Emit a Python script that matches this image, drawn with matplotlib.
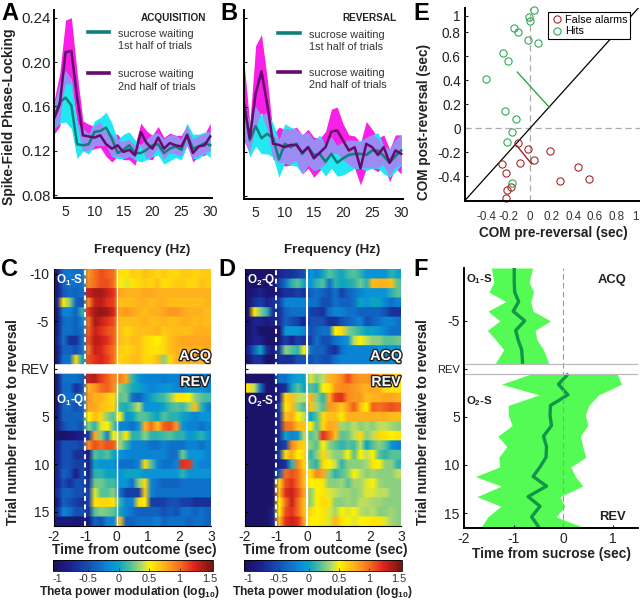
import numpy as np
import matplotlib
matplotlib.use('Agg')
import matplotlib.pyplot as plt
import matplotlib.patheffects as pe
from matplotlib.colors import LinearSegmentedColormap

plt.rcParams['font.family'] = ['Liberation Sans', 'DejaVu Sans']
plt.rcParams['mathtext.fontset'] = 'custom'
plt.rcParams['mathtext.rm'] = 'Liberation Sans'
plt.rcParams['mathtext.bf'] = 'Liberation Sans:bold'
plt.rcParams['axes.unicode_minus'] = False

# Panels A and B
freq = list(range(3, 31))

a_teal = [.150,.164,.168,.161,.126,.125,.126,.137,.138,.141,.131,.118,.121,.125,.118,.118,.121,.125,.126,.118,.122,.124,.121,.135,.122,.124,.127,.125]
a_teal_hi = [.16,.18,.192,.185,.145,.14,.135,.147,.15,.155,.145,.13,.135,.137,.13,.125,.13,.135,.136,.13,.134,.134,.13,.145,.135,.135,.137,.137]
a_teal_lo = [.14,.145,.146,.14,.113,.12,.117,.125,.125,.125,.115,.113,.113,.115,.112,.11,.112,.115,.116,.108,.111,.114,.112,.125,.113,.113,.118,.114]
a_purple = [.149,.162,.209,.210,.168,.134,.133,.132,.134,.126,.122,.125,.119,.121,.116,.137,.127,.122,.132,.122,.127,.125,.124,.134,.118,.124,.125,.133]
a_purple_hi = [.165,.19,.238,.24,.19,.147,.144,.142,.146,.137,.135,.135,.128,.13,.125,.145,.138,.134,.142,.132,.136,.134,.134,.143,.13,.133,.135,.145]
a_purple_lo = [.135,.142,.18,.18,.145,.12,.12,.122,.123,.115,.11,.115,.112,.112,.107,.125,.113,.112,.122,.112,.118,.117,.115,.125,.11,.115,.116,.12]

b_teal = [.163,.130,.143,.132,.136,.132,.113,.127,.124,.127,.118,.124,.117,.118,.111,.118,.110,.114,.117,.118,.118,.117,.121,.121,.116,.110,.116,.121]
b_teal_hi = [.16,.145,.16,.152,.155,.145,.13,.145,.142,.14,.135,.137,.13,.135,.125,.133,.125,.128,.13,.13,.13,.132,.135,.137,.125,.122,.13,.135]
b_teal_lo = [.135,.115,.125,.118,.118,.115,.097,.11,.108,.107,.10,.108,.103,.105,.098,.105,.098,.099,.102,.105,.105,.103,.105,.105,.10,.097,.102,.108]
b_purple = [.163,.132,.172,.192,.162,.127,.126,.124,.126,.126,.119,.124,.114,.119,.124,.138,.139,.130,.121,.124,.105,.127,.124,.117,.124,.110,.121,.118]
b_purple_hi = [.20,.145,.215,.225,.185,.135,.142,.14,.14,.142,.135,.14,.133,.132,.138,.158,.16,.145,.135,.134,.128,.147,.14,.132,.135,.122,.135,.135]
b_purple_lo = [.13,.118,.14,.155,.14,.113,.11,.107,.108,.112,.10,.105,.097,.103,.108,.118,.118,.113,.108,.105,.09,.105,.105,.102,.108,.093,.105,.10]

# Panel E
hits_x = [.04,-.01,0,-.15,-.11,-.02,.07,-.25,-.2,-.41,-.23,-.13,-.17,-.21,-.17]
hits_y = [.98,.925,.89,.83,.80,.73,.71,.625,.56,.41,.14,.075,-.03,-.117,-.455]
false_x = [-.11,-.015,.18,.035,-.09,-.26,-.225,.44,.54,.28,-.18,-.215,-.22]
false_y = [-.125,-.175,-.19,-.265,-.285,-.30,-.37,-.325,-.42,-.44,-.485,-.51,-.58]
hits_seg_x = [-.117, .18]
hits_seg_y = [.467, .172]
false_seg_x = [-.123, .015]
false_seg_y = [-.144, -.297]

# Panels C and D, trials x time bins
c_acq = [
    [-.9,-.3,-.25,-.3,-.3,.85,1.0,1.1,1.05,1.0,.55,.55,.65,.6,.7,.65,.6,.65,.6,.6,.65,.65,.6,.65,.65],
    [-.9,-.4,-.3,-.35,-.3,.9,1.0,1.1,1.1,1.0,.5,.45,.55,.6,.65,.6,.7,.55,.6,.65,.65,.6,.6,.7,.65],
    [-.9,-.45,-.35,-.4,-.3,1.3,1.4,1.4,1.3,1.2,.8,.75,.75,.75,.8,.8,.75,.75,.75,.75,.75,.75,.75,.75,.75],
    [-.8,.55,.3,-.4,-.5,.9,1.3,1.35,1.2,1.15,.7,.7,.7,.75,.75,.7,.75,.75,.7,.7,.7,.7,.7,.7,.75],
    [-.9,-.2,-.2,-.4,.1,1.2,1.4,1.45,1.4,1.25,.8,.85,.8,.75,.7,.75,.75,.8,.85,.85,.8,.75,.75,.75,.7],
    [-.9,-.35,-.3,-.4,-.2,1.0,1.4,1.3,1.2,1.1,.7,.7,.7,.7,.75,.7,.7,.75,.7,.7,.75,.75,.7,.75,.7],
    [-.9,-.3,-.3,-.4,-.3,1.05,1.3,1.2,1.1,1.05,.7,.6,.65,.7,.7,.7,.75,.65,.7,.7,.7,.7,.75,.75,.75],
    [-.8,-.3,-.7,-.7,-.3,1.1,1.35,1.3,1.2,1.05,.7,.65,.7,.7,.6,.55,.5,.6,.7,.75,.8,.8,.8,.8,.8],
    [-.9,-.4,-.4,-.5,-.3,1.0,1.3,1.25,1.1,1.0,.65,.6,.65,.7,.6,.55,.55,.6,.7,.75,.75,.75,.75,.75,.8],
    [-.9,-.3,-.3,.6,.0,1.1,1.2,1.25,1.15,1.0,.6,.65,.7,.7,.6,.6,.7,.3,.6,.75,.75,.75,.75,.75,.8],
]
c_rev = [
    [-.9,-.3,-.3,-.3,-.4,1.3,1.35,1.15,1.05,.9,.95,.8,.1,-.1,-.2,-.2,-.2,-.25,-.2,-.2,-.3,-.25,-.3,-.25,-.3],
    [-.9,-.35,-.35,-.7,-.5,.75,.85,1.0,1.05,.9,.3,.2,.05,.0,-.1,-.2,-.15,-.1,-.1,-.2,-.2,-.1,-.1,-.1,-.2],
    [-.9,-.3,-.3,-.4,-.3,.85,.75,.75,.65,.6,.2,.25,-.3,-.4,-.2,.0,.1,.15,.3,.55,.55,.5,.3,.2,.15],
    [-.9,-.4,-.35,-.5,-.4,.8,.8,.7,.65,.6,.1,.05,.2,.4,-.1,-.1,-.1,.0,.15,.2,.15,.3,.7,.1,-.2],
    [-.9,-.4,-.4,-.4,-.4,.5,.7,.6,.3,.2,.5,-.1,.0,.2,.2,.1,.0,.2,.1,.1,.0,-.1,-.2,-.1,-.1],
    [-.9,-.5,-.4,-.4,-.5,.3,.1,.45,.5,.2,-.2,-.2,-.3,-.1,.75,1.0,.7,1.05,1.1,.85,-.1,-.2,-.2,-.3,-.2],
    [-1,-1,-.95,-.9,-.8,-.6,.8,.3,-.2,.5,.3,.55,.1,.1,.3,.1,.1,.15,.2,.1,.1,-.1,.0,.1,-.1],
    [-.8,-.5,-.5,-.5,-.6,.9,1.1,1.0,1.1,1.05,.35,.1,-.2,-.2,-.2,-.3,-.3,-.2,-.3,-.3,-.3,-.2,-.2,-.3,-.2],
    [-.8,-.5,-.5,-.7,-.7,-.85,.2,.1,.2,.0,-.1,-.2,-.2,-.2,-.2,-.2,-.2,-.2,-.3,-.3,.25,-.1,-.1,-.1,-.2],
    [-.8,-.5,-.5,-.6,-.6,-.8,.0,-.1,-.1,-.1,-.3,-.3,-.3,-.2,.6,.2,-.2,-.3,-.3,-.2,1.2,1.15,-.1,-.2,-.2],
    [-.8,-.4,-.5,-.85,-.5,-.8,.1,.1,.0,.0,-.1,.0,.0,.0,-.1,-.1,-.1,-.1,-.1,-.1,.1,-.1,-.1,-.1,-.1],
    [-.8,-.5,-.7,-.5,-.5,-.7,.25,.25,.15,.15,-.1,-.1,-.3,.3,.6,-.2,-.3,-.4,-.4,-.4,-.3,-.3,-.3,-.3,-.3],
    [-.7,-.4,-.4,-.5,-.5,-.6,.45,.2,.2,.3,-.3,-.6,-.6,-.6,.65,-.2,-.3,-.3,-.3,-.3,-.3,-.3,-.3,-.3,-.3],
    [-.9,-.4,-.5,-.6,-.7,-.6,.55,.6,.6,.55,.1,-.2,-.2,.6,.5,-.6,-.6,-.6,-.5,-.5,-.6,-.6,-.7,-.7,-.7],
    [-.7,-.2,-.3,-.5,-.5,-.7,.2,.3,.25,.2,.0,-.2,-.3,-.4,-.4,-.4,-.4,-.5,-.4,-.5,-.3,-.3,-.4,-.3,-.4],
    [-.9,-.9,-.9,-.95,-.9,-.9,-.4,-.5,-.2,-.2,.7,-.4,-.4,-.3,-.3,-.3,-.2,-.4,-.3,-.3,-.3,-.4,-.3,-.3,-.4],
]
d_acq = [
    [-1,-1,-1,-1,-1,-.8,-.7,-.7,-.6,-.5,-.1,-.2,.0,.2,.1,.0,.15,.2,.1,-.1,-.1,-.1,-.1,.1,.0],
    [-1,-1,-1,-1,-1,-.6,-.3,.1,.2,.0,-.1,.1,.2,-.3,.1,.0,.05,.1,.25,.1,.7,.75,.75,.7,.2],
    [-1,-.9,-.8,-.95,-.95,-.85,-.7,-.7,-.6,-.7,-.4,-.3,-.4,-.5,-.3,-.6,-.4,-.3,-.2,-.1,-.1,-.1,-.1,.1,.2],
    [-1,-.7,-.6,-.8,-.7,-.6,-.2,-.2,-.2,-.2,-.3,-.3,-.5,-.5,-.3,-.4,-.4,-.3,.0,-.1,.0,.0,-.2,-.3,-.2],
    [-1,.55,.3,.1,-.7,-.7,-.4,-.3,-.3,-.3,-.6,-.6,-.7,-.3,-.2,-.2,-.3,-.3,-.4,-.4,-.4,-.4,-.5,-.7,-.7],
    [-1,-.8,-.8,-.9,-.8,-.7,-.4,-.5,-.6,-.8,-.5,-.5,-.5,-.7,-.7,-.5,-.4,-.3,-.2,-.5,-.4,-.3,-.2,-.2,-.3],
    [-1,-.8,-1,-1,-1,-1,-.1,-.1,-.1,-.2,-.5,-.4,-.3,-.3,.5,.6,.3,.2,.1,.0,.0,-.1,-.2,-.3,-.3],
    [-1,-.8,-.8,-1,-1,-.9,-.6,-.8,-.6,-.7,-.6,-.3,-.5,-.5,-.3,-.2,-.1,.4,.5,.4,.3,.3,.2,.2,.25],
    [-.8,-.4,.0,-.7,-.9,-.6,.3,.2,.1,.5,-.3,-.4,-.4,-.6,-.7,-.3,-.2,-.2,-.2,-.2,-.2,-.1,-.1,-.1,-.1],
    [-1,-.7,-.7,-1,-1,-.7,-.7,-.7,-.5,-.5,-.5,-.4,-.5,-.5,-.3,-.2,-.2,-.2,-.2,-.2,-.2,-.2,-.2,-.2,-.2],
]
d_rev = [
    [-1,-1,-1,-1,-1,-.3,-.3,-.1,.0,.0,.45,.3,.4,.75,.8,.9,1.1,.9,.85,.85,.9,.7,.7,.65,.65],
    [.55,.4,-.3,-1,-1,-.8,-.7,.0,.2,.0,.2,.1,.5,.55,.85,.9,.9,.85,.8,.75,.8,.75,.6,.55,.55],
    [-1,-1,-1,-1,-1,-.8,.6,.7,.4,.4,.75,.3,.1,.75,1.15,1.2,.9,.85,.85,.7,.75,.75,.8,.8,.75],
    [-1,-1,-1,-1,-1,-.6,.55,.7,.3,.15,.7,.35,.2,.85,.8,.65,.85,1.05,.7,.5,1.05,1.0,1.05,1.1,1.05],
    [-1,-1,-1,-1,-1,-.7,.7,.8,.5,.4,.0,.2,.6,.7,.7,.55,.75,.75,.75,.75,.75,.75,.75,.7,.7],
    [-1,-1,-1,-1,-1,-.7,1.0,.95,.7,.7,.5,.2,.6,.8,.75,.35,.3,.4,.3,.35,.3,.4,.4,.35,.3],
    [-1,-1,-1,-1,-1,-.7,.0,-.2,-.1,.4,.2,.3,1.2,1.0,.7,.2,.25,.4,.6,.3,.4,.6,.55,.5,.55],
    [-1,-1,-1,-1,-1,-.7,-.6,.9,.7,.6,.3,.2,.5,.3,.2,.1,.2,.15,.4,.0,.2,.3,.2,-.1,-.2],
    [-1,-1,-1,-1,-1,-.6,.6,.8,.5,.6,.1,.3,.6,.4,.3,.3,.5,.2,.5,.4,.5,.2,.1,.2,.2],
    [-1,-1,-1,-1,-1,-.8,-.7,.1,.9,.6,.2,.1,.6,.5,.4,.1,.3,.3,.3,.35,.55,.5,.3,.3,.1],
    [-1,-1,-1,-1,-1,-.4,1.0,1.1,1.0,.7,.6,.9,.8,.3,.1,.2,.3,.5,.4,.3,.35,.3,.3,.3,.4],
    [-1,-1,-1,-1,-1,.6,1.1,1.2,1.0,.7,.5,.5,.55,.3,.3,.35,.2,.35,.35,.45,.5,.35,.3,.3,.3],
    [-1,-1,-1,-1,-1,.7,1.2,1.3,1.1,.8,.3,.5,.55,.45,.4,.35,.35,.3,.35,.45,.45,.4,.4,.3,.3],
    [-1,-1,-1,-1,-1,.5,1.0,1.3,1.0,.7,.3,.5,.6,.55,.3,.3,.35,.3,.4,.4,.35,.35,.3,.3,.3],
    [-1,-1,-1,-1,-.8,.5,1.1,1.2,1.0,.7,.6,.5,.55,.45,.35,.5,.45,.5,.4,.35,.4,.3,.3,.35,.3],
    [-1,-1,-1,-1,-.8,.7,1.2,1.3,1.2,.8,.5,.5,.55,.45,.75,.55,.5,.45,.5,.5,.55,.55,.45,.35,.3],
]

# Panel F
f_acq_trial = [-10.5,-9,-8,-7,-6,-5,-4,-3,-2,-.5]
f_acq_mid = [-.99,-.99,-.98,-.9,-1.01,-.78,-.96,-.91,-.84,-.82]
f_acq_lo = [-1.45,-1.4,-1.5,-1.16,-1.52,-1.28,-1.53,-1.36,-1.2,-1.38]
f_acq_hi = [-.62,-.69,-.6,-.66,-.61,-.26,-.57,-.53,-.4,-.29]
f_rev_trial = [.5,1.6,2.7,3.8,4.8,5.9,7,8.1,9.2,10.2,11.2,12.2,13.3,14.3,15.4,16.5]
f_rev_mid = [.1,-.1,.09,-.26,-.27,-.24,-.4,-.34,-.35,-.47,-.61,-.34,-.71,-.47,-.64,-.49]
f_rev_lo = [-.64,-1.25,-.49,-1.11,-1.11,-1.03,-1.32,-1.14,-1.3,-1.28,-1.77,-1.25,-1.74,-1.26,-1.52,-1.66]
f_rev_hi = [1.08,1.17,.71,.51,.44,.49,.34,.39,.45,.15,.24,.39,-.07,.03,-.15,.4]

trial_ticks = [-10, -5, 0, 5, 10, 15]
trial_labels = ['-10', '-5', 'REV', '5', '10', '15']

W, H = 640, 600
fig = plt.figure(figsize=(6.4, 6.0), dpi=100)


def ax_px(left, top, right, bottom):
    # axes from pixel edges of the picture
    return fig.add_axes([left / W, 1 - bottom / H, (right - left) / W, (bottom - top) / H])


def txt(x, y, s, **kw):
    kw.setdefault('ha', 'center')
    kw.setdefault('va', 'center')
    return fig.text(x / W, 1 - y / H, s, **kw)


def bare(ax):
    ax.spines['top'].set_visible(False)
    ax.spines['right'].set_visible(False)
    ax.spines['left'].set_linewidth(1.4)
    ax.spines['bottom'].set_linewidth(1.4)


def locking(ax, x, teal, t_hi, t_lo, purple, p_hi, p_lo):
    t_hi, t_lo, p_hi, p_lo = map(np.array, (t_hi, t_lo, p_hi, p_lo))
    ax.fill_between(x, p_lo, p_hi, color='#f81fe6', lw=0)
    ax.fill_between(x, t_lo, t_hi, color='#22e8f2', lw=0)
    ax.fill_between(x, np.maximum(p_lo, t_lo), np.minimum(p_hi, t_hi),
                    where=np.minimum(p_hi, t_hi) > np.maximum(p_lo, t_lo),
                    color='#9a8cf2', lw=0, interpolate=True)
    ax.plot(x, teal, color='#0f7f7a', lw=1.8)
    ax.plot(x, purple, color='#660a6e', lw=1.8)
    ax.set_xlim(3, 30.3)
    ax.set_ylim(0.0775, 0.247)
    ax.set_xticks([5, 10, 15, 20, 25, 30])
    ax.set_yticks([.08, .12, .16, .20, .24])
    ax.tick_params(axis='x', length=0, labelsize=10, pad=5, colors='#222222')
    bare(ax)


ax_a = ax_px(54, 10, 212, 198)
locking(ax_a, freq, a_teal, a_teal_hi, a_teal_lo, a_purple, a_purple_hi, a_purple_lo)
ax_a.set_yticklabels(['0.08', '0.12', '0.16', '0.20', '0.24'])
ax_a.tick_params(axis='y', direction='in', length=2, labelsize=10.8, pad=2, colors='#222222')

ax_b = ax_px(244, 10, 403, 199)
locking(ax_b, freq, b_teal, b_teal_hi, b_teal_lo, b_purple, b_purple_hi, b_purple_lo)
ax_b.set_yticklabels([])
ax_b.tick_params(axis='y', direction='in', length=2)

fig.add_artist(plt.Line2D([88 / W, 109 / W], [1 - 32 / H] * 2, color='#0f7f7a', lw=2.6))
fig.add_artist(plt.Line2D([88 / W, 109 / W], [1 - 73 / H] * 2, color='#660a6e', lw=2.6))
fig.add_artist(plt.Line2D([278 / W, 300 / W], [1 - 33 / H] * 2, color='#0f7f7a', lw=2.6))
fig.add_artist(plt.Line2D([278 / W, 300 / W], [1 - 72 / H] * 2, color='#660a6e', lw=2.6))
for x0, ys in ((118, (34, 46, 74, 87)), (309, (35, 47, 73, 85))):
    txt(x0, ys[0], 'sucrose waiting', ha='left', fontsize=7.8, color='#333333')
    txt(x0, ys[1], '1st half of trials', ha='left', fontsize=7.8, color='#333333')
    txt(x0, ys[2], 'sucrose waiting', ha='left', fontsize=7.8, color='#333333')
    txt(x0, ys[3], '2nd half of trials', ha='left', fontsize=7.8, color='#333333')
txt(173, 18, 'ACQUISITION', fontsize=7.2, fontweight='bold', color='#222222')
txt(369, 18, 'REVERSAL', fontsize=7.2, fontweight='bold', color='#222222')
txt(9, 117, 'Spike-Field Phase-Locking', rotation=90, fontsize=10, fontweight='bold', color='#222222')

# Panel E
ax_e = ax_px(465, 8, 640, 201)
ax_e.axhline(0, color='#aaaaaa', lw=0.9, ls=(0, (5, 3)))
ax_e.axvline(0, color='#aaaaaa', lw=0.9, ls=(0, (5, 3)))
ax_e.plot([-.6, 1.02], [-.6, 1.02], color='black', lw=0.9)
ax_e.plot(hits_seg_x, hits_seg_y, color='#2ca84a', lw=1)
ax_e.plot(false_seg_x, false_seg_y, color='#a02028', lw=1)
ax_e.plot(false_x, false_y, 'o', mfc='none', mec='#a52a2a', ms=5.2, mew=0.8, label='False alarms', clip_on=False)
ax_e.plot(hits_x, hits_y, 'o', mfc='none', mec='#2faa55', ms=5.2, mew=0.8, label='Hits', clip_on=False)
ax_e.set_xlim(-.6, 1.015)
ax_e.set_ylim(-.605, 1.0)
ax_e.set_xticks([-.4, -.2, 0, .2, .4, .6, .8, .97])
ax_e.set_xticklabels(['-0.4', '-0.2', '0', '0.2', '0.4', '0.6', '0.8', '1'])
ax_e.set_yticks([-.4, -.2, 0, .2, .4, .6, .8, .936])
ax_e.set_yticklabels(['-0.4', '-0.2', '0', '0.2', '0.4', '0.6', '0.8', '1'])
ax_e.tick_params(axis='x', length=0, labelsize=8.4, pad=7, colors='#333333')
ax_e.tick_params(axis='y', direction='in', length=2, labelsize=9.8, pad=3, colors='#222222')
bare(ax_e)
leg = ax_e.legend(loc='upper left', bbox_to_anchor=((548 - 465) / 175, 1 - (12 - 8) / 193), fontsize=7.8,
                  fancybox=False, framealpha=1, edgecolor='black', borderpad=0.25, labelspacing=0.15,
                  handletextpad=0.2, handlelength=1.1, borderaxespad=0)
leg.get_frame().set_linewidth(0.8)
txt(553, 233, 'COM pre-reversal (sec)', fontsize=9.8, fontweight='bold', color='#222222')
txt(424, 122, 'COM post-reversal (sec)', rotation=90, fontsize=9.8, fontweight='bold', color='#222222')

# Panels C and D
cmap = LinearSegmentedColormap.from_list('theta', [
    (0.00, '#1b0f5e'), (0.10, '#1c1f8c'), (0.22, '#1450b4'), (0.36, '#0a8fdc'),
    (0.41, '#0aa3c4'), (0.48, '#4fbf9c'), (0.56, '#b6dc6a'), (0.60, '#fff200'),
    (0.70, '#ffb01e'), (0.80, '#f46a1e'), (0.88, '#e0241e'), (1.00, '#74140e')])
cmap.set_bad('white')
vmin, vmax = -1.08, 1.55


def heat(ax, acq, rev, zero_lw):
    gap = [[np.nan] * len(acq[0])]
    grid = np.array(acq + gap + rev, dtype=float)
    # rows repeated so the smoothing only shows along time
    im = ax.imshow(np.repeat(grid, 8, axis=0), cmap=cmap, vmin=vmin, vmax=vmax, aspect='auto',
                   extent=[-2, 3, 16.5, -10.5], interpolation='bilinear')
    ax.axvline(0, color='white', lw=zero_lw)
    ax.axvline(-1, color='white', lw=1.4, ls=(0, (2.5, 1.8)))
    ax.set_xticks([-2, -1, 0, 1, 2, 3])
    ax.set_yticks(trial_ticks)
    ax.tick_params(axis='x', length=0, labelsize=10, pad=3, colors='#222222')
    ax.tick_params(axis='y', direction='in', length=2)
    for s in ax.spines.values():
        s.set_visible(False)
    ax.spines['left'].set_visible(True)
    ax.spines['bottom'].set_visible(True)
    return im


ax_c = ax_px(54, 269, 211, 526)
im_c = heat(ax_c, c_acq, c_rev, 1.0)
ax_c.set_yticklabels(trial_labels, fontsize=10, color='#222222')
ax_d = ax_px(245, 269, 401, 526)
im_d = heat(ax_d, d_acq, d_rev, 1.5)
ax_d.set_yticklabels([])

outline = [pe.withStroke(linewidth=2, foreground='#222222')]
for x0 in (195, 386):
    txt(x0, 356, 'ACQ', color='white', fontsize=10.3, fontweight='bold', path_effects=outline)
    txt(x0, 382, 'REV', color='white', fontsize=10.3, fontweight='bold', path_effects=outline)
txt(70, 280, r'O$_{\mathbf{1}}$-S', color='white', fontsize=8.4, fontweight='bold')
txt(70, 400, r'O$_{\mathbf{1}}$-Q', color='white', fontsize=8.4, fontweight='bold')
txt(261, 280, r'O$_{\mathbf{2}}$-Q', color='white', fontsize=8.4, fontweight='bold')
txt(261, 401, r'O$_{\mathbf{2}}$-S', color='white', fontsize=8.4, fontweight='bold')

txt(142, 250, 'Frequency (Hz)', fontsize=9.6, fontweight='bold', color='#222222')
txt(332, 250, 'Frequency (Hz)', fontsize=9.6, fontweight='bold', color='#222222')
txt(134, 550, 'Time from outcome (sec)', fontsize=10, fontweight='bold', color='#222222')
txt(325, 550, 'Time from outcome (sec)', fontsize=10, fontweight='bold', color='#222222')
txt(13, 422, 'Trial number relative to reversal', rotation=90, fontsize=9.8, fontweight='bold', color='#222222')

for im, box, cx in ((im_c, (53, 560, 213, 571), 129), (im_d, (244, 560, 402, 571), 322)):
    cax = ax_px(*box)
    cb = fig.colorbar(im, cax=cax, orientation='horizontal')
    cb.set_ticks([-1, -.5, 0, .5, 1, 1.5])
    cb.set_ticklabels(['-1', '-0.5', '0', '0.5', '1', '1.5'])
    cb.ax.tick_params(direction='in', length=2.5, width=0.6, labelsize=7.9, pad=2.5, colors='#333333')
    cb.outline.set_linewidth(0.6)
    txt(cx, 592, r'Theta power modulation (log$_{\mathbf{10}}$)', fontsize=8.7, fontweight='bold', color='#222222')

# Panel F
ax_f = ax_px(464, 268, 638, 528)
ax_f.fill_betweenx(f_acq_trial, f_acq_lo, f_acq_hi, color='#55fb55', lw=0)
ax_f.fill_betweenx(f_rev_trial, f_rev_lo, f_rev_hi, color='#55fb55', lw=0)
ax_f.plot(f_acq_mid, f_acq_trial, color='#12964a', lw=2.4, solid_capstyle='butt')
ax_f.plot(f_rev_mid, f_rev_trial, color='#12964a', lw=2.4, solid_capstyle='butt')
ax_f.axvline(0, color='#999999', lw=0.8, ls=(0, (5, 3)))
ax_f.axhline(-.5, color='#bbbbbb', lw=0.9)
ax_f.axhline(.5, color='#bbbbbb', lw=0.9)
ax_f.set_xlim(-2, 1.5)
ax_f.set_ylim(16.56, -10.5)
ax_f.set_xticks([-2, -1, 0, 1])
ax_f.set_yticks([-5, 0, 5, 10, 15])
ax_f.set_yticklabels(['-5', 'REV', '5', '10', '15'])
ax_f.tick_params(axis='x', direction='in', length=2, labelsize=10, pad=3, colors='#222222')
ax_f.tick_params(axis='y', direction='in', length=2, labelsize=10, pad=3, colors='#222222')
ax_f.get_yticklabels()[1].set_fontsize(8)
bare(ax_f)
txt(479, 279, r'O$_{\mathbf{1}}$-S', fontsize=8.2, fontweight='bold', color='#222222')
txt(479, 401, r'O$_{\mathbf{2}}$-S', fontsize=8.2, fontweight='bold', color='#222222')
txt(612, 280, 'ACQ', fontsize=9.4, fontweight='bold', color='#222222')
txt(612, 517, 'REV', fontsize=9.4, fontweight='bold', color='#222222')
txt(551, 554, 'Time from sucrose (sec)', fontsize=9.9, fontweight='bold', color='#222222')
txt(423, 422, 'Trial number relative to reversal', rotation=90, fontsize=9.8, fontweight='bold', color='#222222')

# Panel letters
for s, x0, y0 in (('A', 1, 13), ('B', 220, 13), ('E', 413, 13), ('C', 1, 270), ('D', 218, 270), ('F', 413, 270)):
    txt(x0, y0, s, ha='left', fontsize=17, fontweight='bold', color='black')

fig.savefig('out.png', dpi=100)
